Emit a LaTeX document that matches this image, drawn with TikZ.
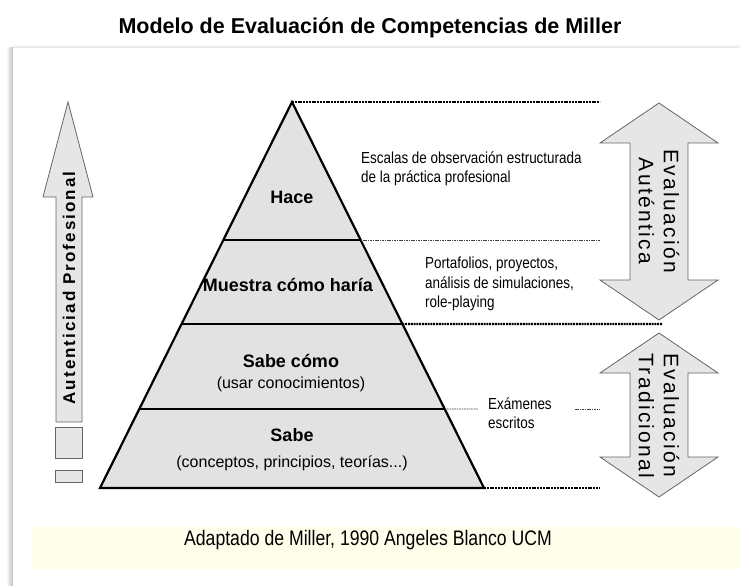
\documentclass[tikz,border=0pt]{standalone}
\usepackage{fontspec}
\setmainfont{Liberation Sans}
\newfontfamily\narrowfont[FakeStretch=0.84]{Liberation Sans}
\newfontfamily\spacedfont[LetterSpace=11]{Liberation Sans}
\newfontfamily\trackedfont[LetterSpace=12]{Liberation Sans}
\usetikzlibrary{calc,positioning}
\definecolor{bandyellow}{RGB}{255,254,234}
\definecolor{pyrgray}{RGB}{226,226,226}
\definecolor{arrowgray}{RGB}{230,230,230}

\begin{document}
\begin{tikzpicture}[x=1pt, y=-1pt,
    level/.style={line width=2.6pt},
    thickdots/.style={line width=2.4pt, dash pattern=on 2pt off 0.8pt},
    thindots/.style={line width=0.9pt, black!75, dash pattern=on 1.6pt off 0.8pt},
    bigarrow/.style={draw=black!60, fill=arrowgray, line width=0.8pt},
    stage/.style={font=\bfseries\fontsize{18}{21}\selectfont},
    detail/.style={font=\fontsize{16}{19}\selectfont},
    method/.style={font=\narrowfont\fontsize{16}{19.5}\selectfont, align=left, anchor=west, inner sep=0pt}
  ]
  \useasboundingbox (0,0) rectangle (740,586);

  \node (title) [anchor=base, font=\bfseries\fontsize{21.5}{25}\selectfont] at (370,34) {Modelo de Evaluación de Competencias de Miller};

  \shade[left color=white, right color=black!25] (6,48) rectangle (13,586);
  \shade[top color=white, bottom color=black!12] (13,44) rectangle (740,48);
  \fill[white] (13,48) rectangle (740,586);
  \fill[bandyellow] (32,527) rectangle (740,569);
  \node (credit) [anchor=base, font=\narrowfont\fontsize{21}{24}\selectfont] at (368,545) {Adaptado de Miller, 1990 Angeles Blanco UCM};

  \coordinate (apex) at (292,102);
  \coordinate (bl) at (100,488);
  \coordinate (br) at (484,488);
  \draw[fill=pyrgray, line width=2.2pt] (apex) -- (bl) -- (br) -- cycle;
  \foreach \f/\n in {0.3575/a, 0.5751/b, 0.7953/c} {
    \coordinate (l\n) at ($(apex)!\f!(bl)$);
    \coordinate (r\n) at ($(apex)!\f!(br)$);
    \draw[level] (l\n) -- (r\n);
  }

  \coordinate (end0) at (600,102);
  \coordinate (end1) at (662,324);
  \coordinate (gap0) at (478,409);
  \coordinate (gap1) at (575,409);
  \draw[thickdots] (apex) -- (end0);
  \draw[thindots] (ra) -- (ra -| end0);
  \draw[thickdots] (rb) -- (end1);
  \draw[thindots] (rc) -- (gap0);
  \draw[thindots] (gap1) -- (gap1 -| end0);
  \draw[thickdots] (br) -- (br -| end0);

  \node (hace) [stage] at (292,197) {Hace};
  \node (muestra) [stage] at (288,285) {Muestra cómo haría};
  \node (sabecomo) [stage] at (291,361) {Sabe cómo};
  \node (usar) [detail, below=2pt of sabecomo] {(usar conocimientos)};
  \node (sabe) [stage] at (292,435) {Sabe};
  \node (conceptos) [detail] at (292,463) {(conceptos, principios, teorías...)};

  \node (escalas) [method] at (361,169) {Escalas de observación estructurada\\de la práctica profesional};
  \node (portafolios) [method] at (425,284) {Portafolios, proyectos,\\análisis de simulaciones,\\role-playing};
  \node (examenes) [method] at (488,413) {Exámenes\\escritos};

  \draw[bigarrow] (56,422) -- (56,197) -- (43,197) -- (68,102) -- (93,197) -- (82,197) -- (82,422) -- cycle;
  \node (autenticidad) [rotate=90, font=\trackedfont\bfseries\fontsize{17}{20}\selectfont] at (69,288) {Autenticiad Profesional};
  \draw[bigarrow] (55,427) rectangle (82,458);
  \draw[bigarrow] (55,470) rectangle (82,482);

  \foreach \t/\b in {103/320, 333/497} {
    \draw[bigarrow] (659,\t) -- (718,\t+40) -- (688,\t+40) -- (688,\b-40) -- (718,\b-40) -- (659,\b)
      -- (600,\b-40) -- (630,\b-40) -- (630,\t+40) -- (600,\t+40) -- cycle;
  }
  \node (autentica) [rotate=-90, align=center, font=\spacedfont\fontsize{21}{25}\selectfont] at (659,211) {Evaluación\\Auténtica};
  \node (tradicional) [rotate=-90, align=left, font=\spacedfont\fontsize{21}{25}\selectfont] at (659,416) {Evaluación\\Tradicional};
\end{tikzpicture}
\end{document}
